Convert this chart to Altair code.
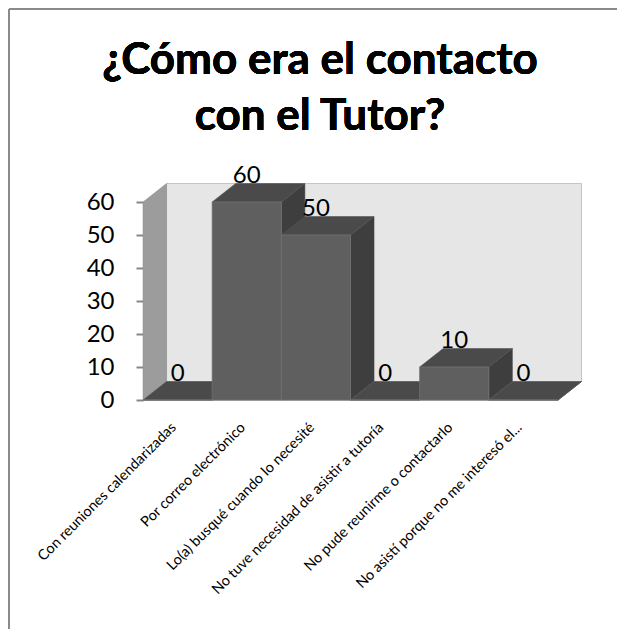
import json
import altair as alt
import pandas as pd

# ---- data ----
categories = [
    "Con reuniones calendarizadas",
    "Por correo electrónico",
    "Lo(a) busqué cuando lo necesité",
    "No tuve necesidad de asistir a tutoría",
    "No pude reunirme o contactarlo",
    "No asistí porque no me interesó el...",
]
values = [0, 60, 50, 0, 10, 0]
y_ticks = [0, 10, 20, 30, 40, 50, 60]
title_lines = ["¿Cómo era el contacto", "con el Tutor?"]

# ---- 3D look (depth in data units) ----
N = len(categories)
YMAX = y_ticks[-1]
DX = 0.34   # depth along x, in category units
DY = 5.6    # depth along y, in value units

FONT = "Lato"
C_FRONT = "#5f5f5f"
C_TOP = "#4a4a4a"
C_SIDE = "#3e3e3e"
C_WALL = "#e6e6e6"
C_LWALL = "#9c9c9c"

front = pd.DataFrame({
    "cat": categories,
    "x0": list(range(N)),
    "x1": [i + 1 for i in range(N)],
    "v": values,
    "xc": [i + 0.5 for i in range(N)],
    "vy": [v + DY for v in values],
})

wall = pd.DataFrame({"xa": [DX], "xb": [N + DX], "ya": [DY], "yb": [YMAX + DY]})
lwall = pd.DataFrame({"x": [0, DX], "ya": [0, DY], "yb": [YMAX, YMAX + DY]})

xs = alt.Scale(domain=[0, N], nice=False, zero=False)
ys = alt.Scale(domain=[0, YMAX], nice=False, zero=False)

label_expr = json.dumps(categories) + "[floor(datum.value)]"

X_AXIS = alt.Axis(
    values=[i + 0.5 for i in range(N)], labelExpr=label_expr, title=None,
    labelAngle=-45, labelAlign="right", labelBaseline="middle",
    labelFontSize=14.5, labelFont=FONT, labelColor="#000000", labelLimit=0,
    labelPadding=25, labelOffset=-4, ticks=False, domain=True, domainColor="#b5b5b5",
    grid=False, labelOverlap=False, labelBound=False, labelFlush=False,
)
Y_AXIS = alt.Axis(
    values=y_ticks, tickSize=7, tickWidth=2, tickColor="#868686", title=None,
    domain=False, grid=False, labelFontSize=24, labelFont=FONT,
    labelColor="#000000", labelPadding=22,
)


def X(field):
    return alt.X(field, type="quantitative", scale=xs, axis=X_AXIS, stack=None)


def Y(field):
    return alt.Y(field, type="quantitative", scale=ys, axis=Y_AXIS, stack=None)


back = alt.Chart(wall).mark_rect(fill=C_WALL, stroke="#c4c4c4", strokeWidth=1).encode(
    x=X("xa"), x2="xb", y=Y("ya"), y2="yb",
)

left = alt.Chart(lwall).mark_area(fill=C_LWALL, stroke="#8c8c8c", strokeWidth=0.5).encode(
    x=X("x"), y=Y("ya"), y2="yb",
)

# one side face and one top face per bar, built from the values
side_layers, top_layers = [], []
for i, v in enumerate(values):
    side_df = pd.DataFrame({"x": [i + 1, i + 1 + DX], "ya": [0, DY], "yb": [v, v + DY]})
    top_df = pd.DataFrame({"y": [v, v + DY], "xa": [i, i + DX], "xb": [i + 1, i + 1 + DX]})
    side_layers.append(
        alt.Chart(side_df).mark_area(fill=C_SIDE, stroke="#474747", strokeWidth=0.6).encode(
            x=X("x"), y=Y("ya"), y2="yb",
        )
    )
    top_layers.append(
        alt.Chart(top_df).mark_area(orient="horizontal", fill=C_TOP, stroke="#545454", strokeWidth=0.6).encode(
            y=Y("y"), x=X("xa"), x2="xb",
        )
    )

fronts = alt.Chart(front).mark_rect(fill=C_FRONT, stroke="#717171", strokeWidth=0.8).encode(
    x=X("x0"), x2="x1", y=Y("v"), y2=alt.Y2(datum=0),
)

labels = alt.Chart(front).mark_text(
    font=FONT, fontSize=24, color="#000000", baseline="alphabetic", dy=-1
).encode(
    x=X("xc"), y=Y("vy"), text="v:Q",
)

title1 = alt.Chart(front).mark_text(
    font=FONT, fontSize=44, fontWeight="bold", color="#000000", baseline="alphabetic", align="center"
).encode(x=alt.value(177), y=alt.value(-128), text=alt.value(title_lines[0]))
title2 = alt.Chart(front).mark_text(
    font=FONT, fontSize=44, fontWeight="bold", color="#000000", baseline="alphabetic", align="center"
).encode(x=alt.value(177), y=alt.value(-72), text=alt.value(title_lines[1]))

frame_v = alt.Chart(front).mark_rule(color="#8a8a8a", strokeWidth=2).encode(
    x=alt.value(-134), y=alt.value(-193), y2=alt.value(430)
)
frame_h = alt.Chart(front).mark_rule(color="#8a8a8a", strokeWidth=2).encode(
    x=alt.value(-134), x2=alt.value(480), y=alt.value(-193)
)

layers = [back, left]
for s, t in zip(side_layers, top_layers):
    layers += [s, t]
layers += [fronts, labels, title1, title2, frame_v, frame_h]

chart = alt.layer(*layers).properties(
    width=415,
    height=198,
    autosize=alt.AutoSizeParams(type="none"),
    padding={"left": 135, "top": 194, "right": 59, "bottom": 229},
).configure_view(stroke=None).configure(background="white", font=FONT)

chart.save("out.html", embed_options={"renderer": "svg", "actions": False})
